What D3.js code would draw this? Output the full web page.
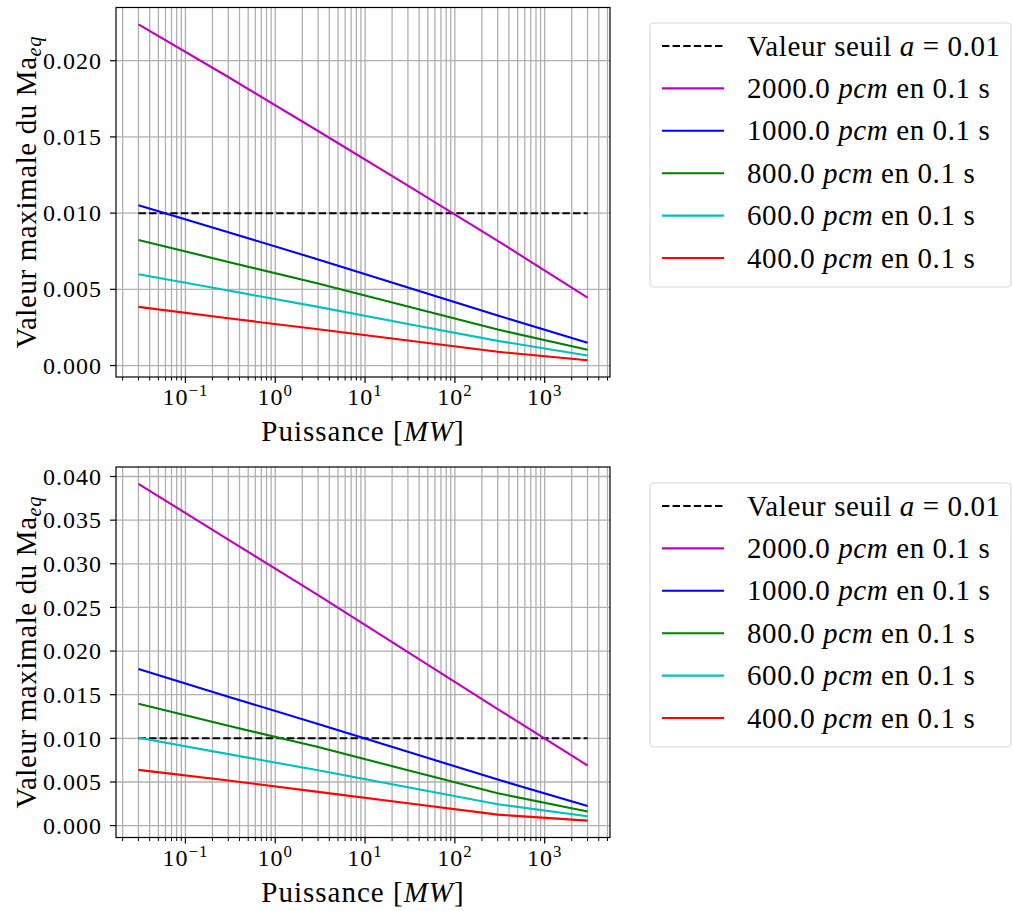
<!DOCTYPE html>
<html><head><meta charset="utf-8">
<script src="https://cdn.jsdelivr.net/npm/d3@7"></script>
<style>body{margin:0;background:#fff}svg{display:block}text{font-family:"Liberation Serif","DejaVu Serif",serif;fill:#000}</style>
</head><body>
<svg id="c" width="1013" height="911"></svg>
<script>
// ---- data ----
const powers = [0.03, 0.3, 3, 30, 300, 3000];
const threshold = 0.01;
const seriesNames = ["2000.0", "1000.0", "800.0", "600.0", "400.0"];
const topMagenta = [0.02239, 0.01893, 0.01539, 0.01181, 0.00818, 0.00446];
const topBlue    = [0.01052, 0.00875, 0.00696, 0.00512, 0.00328, 0.00149];
const topGreen   = [0.00824, 0.00680, 0.00538, 0.00387, 0.00236, 0.00103];
const topCyan    = [0.00599, 0.00492, 0.00385, 0.00273, 0.00162, 0.00066];
const topRed     = [0.00385, 0.00310, 0.00238, 0.00164, 0.00090, 0.00035];
const botMagenta = [0.03916, 0.03277, 0.02641, 0.01987, 0.01336, 0.00689];
const botBlue    = [0.01795, 0.01478, 0.01164, 0.00846, 0.00528, 0.00226];
const botGreen   = [0.01397, 0.01145, 0.00900, 0.00635, 0.00371, 0.00161];
const botCyan    = [0.01007, 0.00819, 0.00634, 0.00440, 0.00245, 0.00107];
const botRed     = [0.00639, 0.00517, 0.00387, 0.00256, 0.00126, 0.00057];
const topYTicks = [0.000, 0.005, 0.010, 0.015, 0.020];
const botYTicks = [0.000, 0.005, 0.010, 0.015, 0.020, 0.025, 0.030, 0.035, 0.040];
const xMajorExps = [-1, 0, 1, 2, 3];

// ---- style ----
const colors = ["#bf00bf", "#0000ff", "#008000", "#00bfbf", "#ff0000"];
const svg = d3.select("#c");
const tickFont = 24, labelFont = 29;

const panels = [
  {top: 7.5, bottom: 377, series: [topMagenta, topBlue, topGreen, topCyan, topRed], yTicks: topYTicks, legendTop: 23},
  {top: 467, bottom: 837.5, series: [botMagenta, botBlue, botGreen, botCyan, botRed], yTicks: botYTicks, legendTop: 483}
];
const left = 116, right = 610;

const lo = Math.log10(d3.min(powers)), hi = Math.log10(d3.max(powers));
const xp = 0.05 * (hi - lo);
const x = d3.scaleLog().domain([10 ** (lo - xp), 10 ** (hi + xp)]).range([left, right]);
const [xd0, xd1] = x.domain();
const minorX = [];
for (let e = -3; e <= 4; e++) for (let m = 2; m <= 9; m++) { const v = m * 10 ** e; if (v >= xd0 && v <= xd1) minorX.push(v); }
const majorX = xMajorExps.map(e => 10 ** e);

panels.forEach(p => {
  const all = p.series.flat().concat([threshold]);
  const ymin = d3.min(all), ymax = d3.max(all), yp = 0.05 * (ymax - ymin);
  const y = d3.scaleLinear().domain([ymin - yp, ymax + yp]).range([p.bottom, p.top]);
  const g = svg.append("g");
  // grid
  g.selectAll(".gx").data(minorX.concat(majorX)).join("line")
    .attr("x1", d => x(d)).attr("x2", d => x(d)).attr("y1", p.top).attr("y2", p.bottom)
    .attr("stroke", "#b0b0b0").attr("stroke-width", 1.3);
  g.selectAll(".gy").data(p.yTicks).join("line")
    .attr("x1", left).attr("x2", right).attr("y1", d => y(d)).attr("y2", d => y(d))
    .attr("stroke", "#b0b0b0").attr("stroke-width", 1.3);
  // threshold
  const line = d3.line().x(d => x(d[0])).y(d => y(d[1]));
  g.append("path").datum([[d3.min(powers), threshold], [d3.max(powers), threshold]])
    .attr("d", line).attr("fill", "none").attr("stroke", "#000").attr("stroke-width", 2)
    .attr("stroke-dasharray", "7.4,3.2");
  p.series.forEach((s, i) => {
    g.append("path").datum(powers.map((pw, k) => [pw, s[k]]))
      .attr("d", line).attr("fill", "none").attr("stroke", colors[i]).attr("stroke-width", 2.1);
  });
  // frame
  g.append("rect").attr("x", left).attr("y", p.top).attr("width", right - left).attr("height", p.bottom - p.top)
    .attr("fill", "none").attr("stroke", "#000").attr("stroke-width", 1.2);
  // y ticks
  g.selectAll(".ty").data(p.yTicks).join("line")
    .attr("x1", left - 6).attr("x2", left).attr("y1", d => y(d)).attr("y2", d => y(d)).attr("stroke", "#000").attr("stroke-width", 1.2);
  g.selectAll(".ly").data(p.yTicks).join("text")
    .attr("x", left - 14).attr("y", d => y(d)).attr("dy", "0.34em").attr("text-anchor", "end")
    .attr("font-size", tickFont).attr("letter-spacing", 1).text(d => d.toFixed(3));
  // x ticks
  g.selectAll(".tmx").data(minorX).join("line")
    .attr("x1", d => x(d)).attr("x2", d => x(d)).attr("y1", p.bottom).attr("y2", p.bottom + 3.5).attr("stroke", "#000").attr("stroke-width", 1);
  g.selectAll(".tMx").data(majorX).join("line")
    .attr("x1", d => x(d)).attr("x2", d => x(d)).attr("y1", p.bottom).attr("y2", p.bottom + 6).attr("stroke", "#000").attr("stroke-width", 1.2);
  const xl = g.selectAll(".lx").data(xMajorExps).join("text")
    .attr("x", d => x(10 ** d)).attr("y", p.bottom + 28).attr("text-anchor", "middle").attr("font-size", tickFont).attr("letter-spacing", 1);
  xl.append("tspan").text("10");
  xl.append("tspan").attr("dy", -9).attr("font-size", tickFont * 0.7).text(d => d < 0 ? "\u2212" + (-d) : String(d));
  // x label
  const xt = g.append("text").attr("x", (left + right) / 2).attr("y", p.bottom + 64).attr("text-anchor", "middle")
    .attr("font-size", labelFont).attr("letter-spacing", 1);
  xt.append("tspan").text("Puissance [");
  xt.append("tspan").attr("font-style", "italic").text("MW");
  xt.append("tspan").text("]");
  // y label
  const yt = g.append("text").attr("transform", `translate(36,${(p.top + p.bottom) / 2}) rotate(-90)`)
    .attr("text-anchor", "middle").attr("font-size", labelFont).attr("letter-spacing", 0.6);
  yt.append("tspan").text("Valeur maximale du Ma");
  yt.append("tspan").attr("font-style", "italic").attr("font-size", labelFont * 0.7).attr("dy", 5).text("eq");
  // legend
  const lg = svg.append("g");
  lg.append("rect").attr("x", 650).attr("y", p.legendTop).attr("width", 361).attr("height", 264).attr("rx", 4)
    .attr("fill", "#fff").attr("fill-opacity", 0.8).attr("stroke", "#d8d8d8").attr("stroke-width", 1.2);
  const rowY = k => p.legendTop + 23 + k * 42.4;
  lg.append("line").attr("x1", 662).attr("x2", 724).attr("y1", rowY(0)).attr("y2", rowY(0))
    .attr("stroke", "#000").attr("stroke-width", 2).attr("stroke-dasharray", "7.4,3.2");
  const t0 = lg.append("text").attr("x", 747).attr("y", rowY(0)).attr("dy", "0.33em").attr("font-size", labelFont).attr("letter-spacing", 0.6);
  t0.append("tspan").text("Valeur seuil ");
  t0.append("tspan").attr("font-style", "italic").text("a");
  t0.append("tspan").text(" = " + threshold.toFixed(2));
  seriesNames.forEach((nm, i) => {
    const yy = rowY(i + 1);
    lg.append("line").attr("x1", 662).attr("x2", 724).attr("y1", yy).attr("y2", yy).attr("stroke", colors[i]).attr("stroke-width", 2.1);
    const t = lg.append("text").attr("x", 747).attr("y", yy).attr("dy", "0.33em").attr("font-size", labelFont).attr("letter-spacing", 0.6);
    t.append("tspan").text(nm + " ");
    t.append("tspan").attr("font-style", "italic").text("pcm");
    t.append("tspan").text(" en 0.1 s");
  });
});
</script>
</body></html>
